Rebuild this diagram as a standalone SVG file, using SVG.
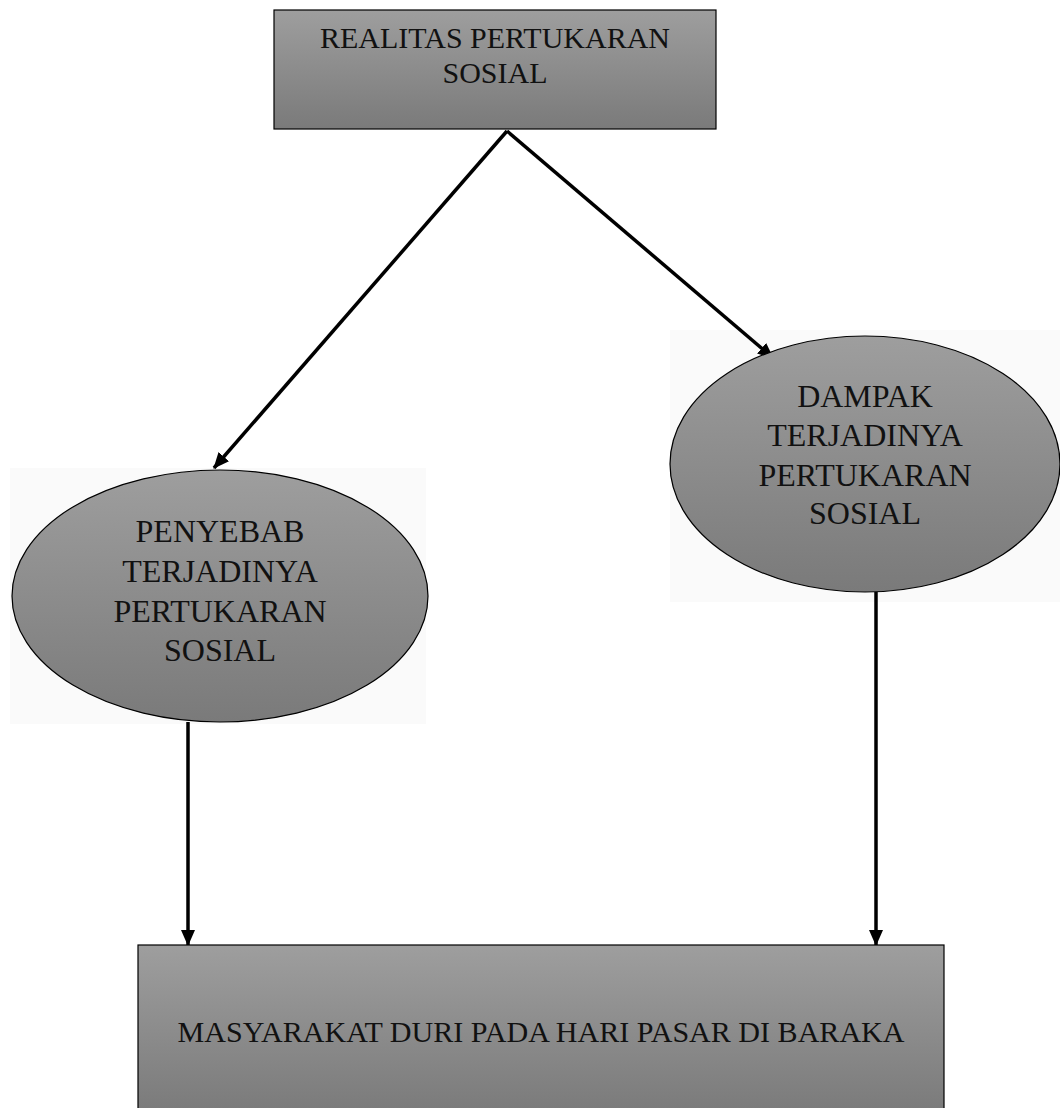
<svg xmlns="http://www.w3.org/2000/svg" width="1060" height="1108" viewBox="0 0 1060 1108">
<defs>
<linearGradient id="g" x1="0" y1="0" x2="0" y2="1">
<stop offset="0" stop-color="#9e9e9e"/>
<stop offset="1" stop-color="#7a7a7a"/>
</linearGradient>
<marker id="ah" markerWidth="16" markerHeight="14" refX="15" refY="7" orient="auto" markerUnits="userSpaceOnUse">
<path d="M0,0 L16,7 L0,14 Z" fill="#000"/>
</marker>
</defs>
<style>
.shape{fill:url(#g);stroke:#000;stroke-width:1.2}
.t{font-family:"Liberation Serif","Times New Roman",serif;font-size:30px;fill:#111;text-anchor:middle}
.e{font-size:32px}
.c{fill:none;stroke:#000;stroke-width:3.5;marker-end:url(#ah)}
.bg{fill:#fafafa}
</style>
<rect width="1060" height="1108" fill="#fff"/>
<rect class="bg" x="10" y="468" width="416" height="256"/>
<rect class="bg" x="670" y="330" width="390" height="272"/>
<g id="connectors">
<line class="c" x1="507" y1="131" x2="214" y2="468"/>
<line class="c" x1="507" y1="131" x2="773" y2="358"/>
<line class="c" x1="188" y1="722" x2="188" y2="945"/>
<line class="c" x1="876" y1="592" x2="876" y2="945"/>
</g>
<g id="realitas">
<rect class="shape" x="274" y="10" width="442" height="119"/>
<text class="t" x="495" y="48">REALITAS PERTUKARAN</text>
<text class="t" x="495" y="83">SOSIAL</text>
</g>
<g id="penyebab">
<ellipse class="shape" cx="220" cy="596" rx="208" ry="126"/>
<text class="t e" x="220" y="542">PENYEBAB</text>
<text class="t e" x="220" y="582">TERJADINYA</text>
<text class="t e" x="220" y="622">PERTUKARAN</text>
<text class="t e" x="220" y="661">SOSIAL</text>
</g>
<g id="dampak">
<ellipse class="shape" cx="865" cy="464" rx="195" ry="128"/>
<text class="t e" x="865" y="407">DAMPAK</text>
<text class="t e" x="865" y="446">TERJADINYA</text>
<text class="t e" x="865" y="486">PERTUKARAN</text>
<text class="t e" x="865" y="524">SOSIAL</text>
</g>
<g id="masyarakat">
<rect class="shape" x="138" y="945" width="806" height="170"/>
<text class="t" x="541" y="1042" textLength="727" lengthAdjust="spacingAndGlyphs">MASYARAKAT DURI PADA HARI PASAR DI BARAKA</text>
</g>
</svg>
